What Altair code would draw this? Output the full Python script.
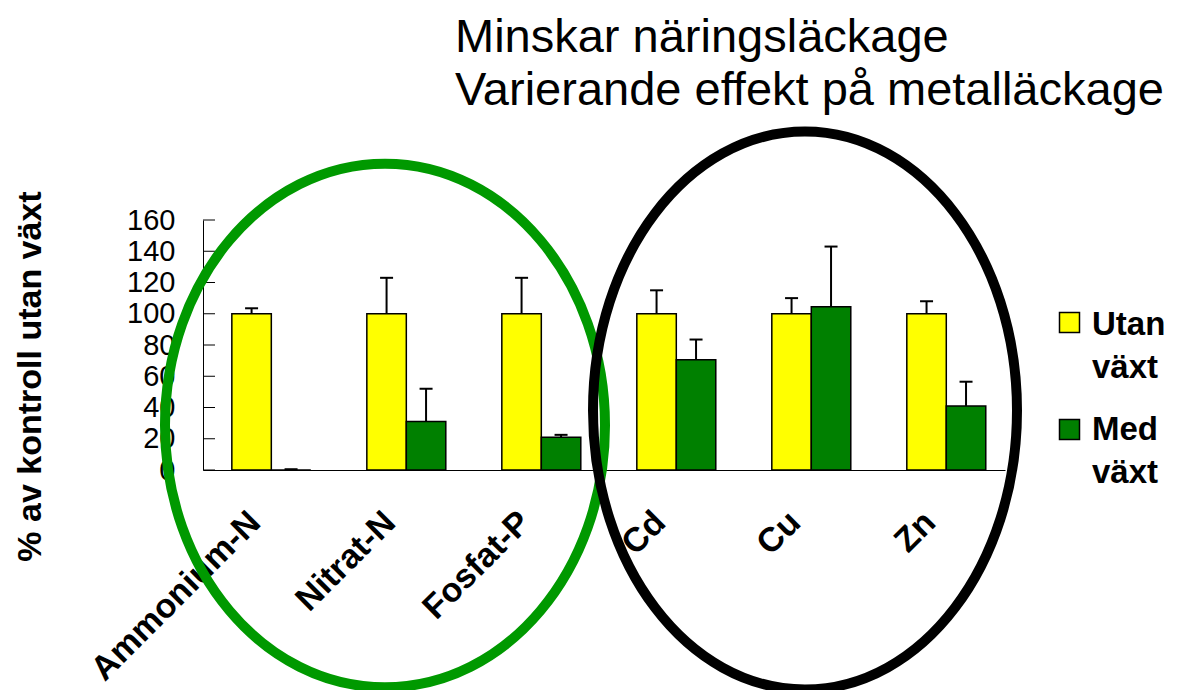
import altair as alt
import pandas as pd

categories = ["Ammonium-N", "Nitrat-N", "Fosfat-P", "Cd", "Cu", "Zn"]
series = ["Utan växt", "Med växt"]
utan_mean = [100, 100, 100, 100, 100, 100]
utan_upper = [103.5, 123, 123, 115, 110, 108]
med_mean = [0, 31, 21, 70.5, 104.5, 41]
med_upper = [0.5, 52, 22.5, 83.5, 143, 56.5]
y_ticks = [0, 20, 40, 60, 80, 100, 120, 140, 160]
title_lines = ["Minskar näringsläckage", "Varierande effekt på metalläckage"]
y_title = "% av kontroll utan växt"
colors = ["#FFFF00", "#008000"]

rows = []
for i, c in enumerate(categories):
    rows.append({"kategori": c, "serie": series[0], "varde": utan_mean[i], "ovre": utan_upper[i]})
    rows.append({"kategori": c, "serie": series[1], "varde": med_mean[i], "ovre": med_upper[i]})
df = pd.DataFrame(rows)
legend_df = pd.DataFrame({"serie": series})

FONT = "Liberation Sans"
color_scale = alt.Scale(domain=series, range=colors)


def ellipse_path(b):
    k = 0.5523
    return (f"M 1 0 C 1 {k*b:.4f} {k} {b} 0 {b} "
            f"C {-k} {b} -1 {k*b:.4f} -1 0 "
            f"C -1 {-k*b:.4f} {-k} {-b} 0 {-b} "
            f"C {k} {-b} 1 {-k*b:.4f} 1 0 Z")


x_enc = alt.X(
    "kategori:N", sort=categories,
    scale=alt.Scale(paddingInner=0.415, paddingOuter=0.178, align=0.6),
    axis=alt.Axis(title=None, labelAngle=315, labelAlign="right", labelBaseline="middle",
                  labelFontSize=34, labelFontWeight="bold", labelFont=FONT, labelColor="black",
                  labelPadding=47, labelOffset=-16, ticks=False, tickSize=0, labelLimit=500,
                  labelOverlap=False, domainColor="black", domainWidth=1),
)
xo_enc = alt.XOffset("serie:N", sort=series, scale=alt.Scale(paddingInner=0, paddingOuter=0))

y_axis = alt.Axis(values=y_ticks, ticks=False, tickSize=0, labelPadding=28, labelFontSize=29,
                  labelFont=FONT, labelColor="black", labelOverlap=False, labelFlush=False,
                  labelBaseline="middle", domainColor="black", domainWidth=1, grid=False,
                  title=y_title, titleFontSize=34, titleFont=FONT, titleFontWeight="bold",
                  titleColor="black", titleAngle=270, titleX=-173, titleY=156,
                  titleAlign="center", titleBaseline="middle")
y_scale = alt.Scale(domain=[0, 160], nice=False)

base = alt.Chart(df).encode(x=x_enc, xOffset=xo_enc)

bars = base.mark_bar(stroke="black", strokeWidth=1.5).encode(
    y=alt.Y("varde:Q", scale=y_scale, axis=y_axis, title=y_title),
    color=alt.Color("serie:N", sort=series, scale=color_scale, legend=None),
)

err = base.mark_rule(color="black", strokeWidth=2).encode(
    y=alt.Y("varde:Q", scale=y_scale, axis=y_axis, title=y_title), y2="ovre:Q"
)
caps = base.mark_tick(color="black", thickness=2, size=13, orient="horizontal", opacity=1).encode(
    y=alt.Y("ovre:Q", scale=y_scale, axis=y_axis, title=y_title)
)

ticks = alt.Chart(pd.DataFrame({"varde": y_ticks})).mark_rule(color="black", strokeWidth=1).encode(
    y=alt.Y("varde:Q", scale=y_scale, axis=y_axis, title=y_title), x=alt.value(0), x2=alt.value(12)
)

one = pd.DataFrame({"e": [0]})
green_ell = alt.Chart(one).mark_point(
    shape=ellipse_path(1.19), size=440 ** 2, filled=False, color="#009900",
    strokeWidth=10, opacity=1
).encode(x=alt.value(182), y=alt.value(205.5))
black_ell = alt.Chart(one).mark_point(
    shape=ellipse_path(1.316), size=424 ** 2, filled=False, color="black",
    strokeWidth=10, opacity=1
).encode(x=alt.value(602), y=alt.value(190.5))

legend_layers = []
for i, s in enumerate(series):
    sel = alt.Chart(legend_df).transform_filter(alt.datum.serie == s)
    legend_layers.append(
        sel.mark_point(shape="square", size=400, filled=True, stroke="black",
                       strokeWidth=1.5, opacity=1).encode(
            x=alt.value(866.5), y=alt.value(102.5 + i * 107),
            fill=alt.Color("serie:N", scale=color_scale, legend=None))
    )
    legend_layers.append(
        sel.mark_text(align="left", baseline="alphabetic", fontSize=33, fontWeight="bold",
                      font=FONT, color="black", lineBreak=" ", lineHeight=43).encode(
            x=alt.value(889), y=alt.value(114.5 + i * 105), text="serie:N")
    )

chart = alt.layer(bars, err, caps, ticks, green_ell, black_ell, *legend_layers).properties(
    width=802, height=250,
    padding={"left": 195, "top": 212, "right": 171, "bottom": 220},
    autosize=alt.AutoSizeParams(type="none"),
    background="white",
    title=alt.TitleParams(text=title_lines, anchor="start", frame="group", dx=252, dy=63,
                          offset=13, fontSize=47, font=FONT, fontWeight="normal",
                          color="black", lineHeight=53, baseline="bottom"),
).configure_view(strokeOpacity=0, strokeWidth=0)

chart.save("out.html", embed_options={"renderer": "svg", "actions": False})
